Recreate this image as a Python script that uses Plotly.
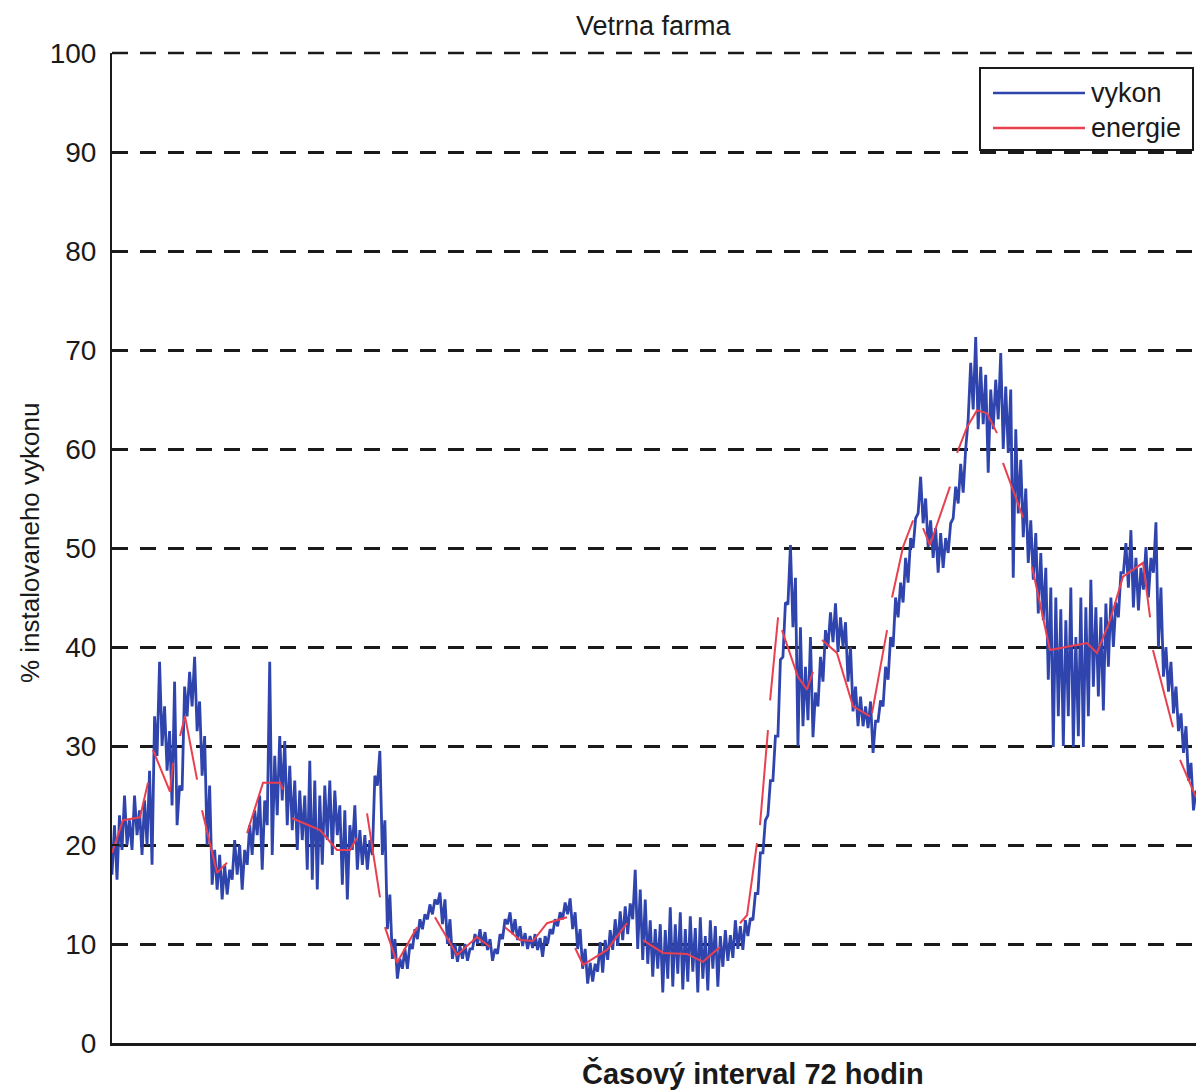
import numpy as np
import plotly.graph_objects as go

# 72 h record of wind-farm output (% of installed capacity), sampled densely
vykon = [
    17, 22, 16.5, 23, 19.5, 25, 20, 22.5, 19.5, 25, 21, 23.5, 19, 24.5, 20, 27.5, 18, 33, 29, 38.5,
    30, 34, 27.5, 31.5, 24, 36.5, 22, 26, 25.5, 36, 33, 37.5, 34, 39, 31.5, 34.5, 27, 31, 20, 26,
    16, 19.5, 15.5, 19, 14.5, 18, 15, 17.5, 16.5, 20.5, 17, 20, 15.5, 19.5, 18, 22, 19, 23.5, 21, 25,
    17.5, 24.5, 22, 38.5, 19, 29, 23, 31, 24.5, 30.5, 22, 28, 21.5, 26.5, 19.5, 25.5, 20.5, 25, 17.5, 28.5,
    16.5, 26.5, 15.5, 25, 18, 26, 20.5, 26.5, 19, 25.5, 21, 24, 16, 23.5, 14.5, 22, 19.5, 24, 17.5, 21.5,
    18, 21, 17.5, 20.5, 19, 27, 26, 29.5, 19, 22.5, 11.5, 15, 8.5, 10.5, 6.5, 8.5, 7.5, 9.5, 7.5, 10,
    9.5, 11.5, 10.5, 12.5, 11.5, 13, 12.5, 14, 13, 14.5, 14, 15.2, 12, 14.5, 10, 12.5, 8.5, 10, 8.2, 9.8,
    8.5, 10, 8.3, 9.5, 9.5, 11, 10, 11.5, 9.8, 11.2, 9.4, 10.5, 8.3, 9.5, 9, 11, 10.5, 12.5, 12, 13.2,
    11, 12.5, 10.4, 11.8, 9.8, 11.1, 9.5, 10.8, 9.6, 11, 9.4, 10.6, 8.7, 10.8, 10, 11.5, 11, 12.5, 11.8, 13.2,
    12.5, 14.2, 13, 14.6, 11.5, 13.2, 9.5, 11.5, 7.5, 9.5, 6, 8.1, 6.2, 8, 7.2, 10.2, 7.1, 10.4, 8.4, 11.4,
    9.4, 12.5, 9.8, 13.3, 10.4, 13.8, 11, 14.1, 12.5, 17.5, 9.5, 15.5, 8.4, 14.5, 8, 12.4, 6.7, 11.5, 7.5, 12,
    5.1, 11.4, 6.5, 13.7, 5.7, 12, 7, 13.2, 5.4, 11.5, 6.2, 12.8, 7.2, 11.6, 5.1, 12.7, 6.5, 10.8, 5.3, 12.4,
    7.5, 11.8, 5.7, 10.8, 7.7, 11.4, 8.3, 10.9, 8.6, 12.4, 9.5, 11.8, 9.4, 12.4, 10.8, 12.6, 12.4, 15.1, 15.1, 19.2,
    19.2, 22.5, 23, 26.5, 26.5, 31, 31, 38.7, 39, 44.5, 44.3, 50.3, 42, 47, 30, 42, 32, 38, 32.6, 41,
    30.9, 35.4, 34, 39, 36.5, 41.7, 40, 43.5, 40.5, 44.4, 39.5, 43, 40, 42.5, 36.5, 40, 33.5, 36, 32, 35,
    32, 34, 31.8, 34.5, 29.3, 32.5, 32.5, 34.6, 34, 38, 36.7, 41, 40, 45, 43, 46.5, 44.5, 49, 46.5, 51,
    50, 53, 53.5, 57.2, 52.5, 55, 50.1, 52.8, 49, 52, 47.5, 51.5, 48, 51, 49.5, 52.5, 53, 56.2, 54.5, 58.5,
    55.6, 60, 63, 68.7, 64, 71.3, 62, 68.3, 62.5, 67.5, 57.6, 66, 62, 67, 63, 69.7, 60, 66.3, 59.6, 66,
    47, 62, 53.5, 58.9, 51.1, 56, 48.5, 52.8, 46.8, 51.5, 43.4, 49.5, 42.7, 48, 36.7, 46, 29.9, 45, 33, 43.8,
    30, 42.7, 33, 46, 29.9, 41, 31, 45, 29.9, 44, 33, 46.8, 36, 44, 35, 43, 33.6, 44.4, 38, 45,
    40, 44.5, 43, 47.5, 47.5, 50.5, 46, 51.8, 44, 49, 43.7, 48, 45.8, 50.1, 45, 49, 47.5, 52.6, 40, 46,
    37, 40, 35.5, 38.5, 33.3, 36, 31.5, 33.3, 29.3, 32, 26.5, 28.3, 23.5, 25.5,
]

# hourly energy curve, drawn in pieces (None breaks the line)
energie_t = [
    0, 0.73, 1.86, 2.39, None,
    2.72, 3.85, 4.05, None,
    4.52, 4.85, 5.65, None,
    5.98, 6.97, 7.64, None,
    8.97, 10.03, 11.16, 11.36, None,
    11.96, 13.82, 14.94, 15.81, 16.27, None,
    16.94, 17.80, None,
    18.13, 18.93, 20.26, None,
    21.45, 22.92, 24.24, 25.11, None,
    26.10, 27.10, 27.96, 28.89, 30.22, None,
    30.76, 31.29, 32.88, 34.21, None,
    35.27, 36.60, 38.19, 39.25, 40.38, None,
    41.71, 42.18, 42.84, None,
    43.04, 43.57, None,
    43.71, 44.24, None,
    44.50, 45.56, 46.16, 46.56, None,
    47.16, 48.15, 49.22, 50.35, None,
    50.48, 51.48, None,
    51.81, 52.54, 53.21, None,
    53.87, 54.33, 55.66, None,
    56.13, 56.79, 57.45, 58.12, 58.78, None,
    59.18, 60.51, None,
    61.11, 62.30, 64.76, 65.42, 66.29, 67.15, 68.48, 68.95, None,
    69.14, 70.47, None,
    70.94, 72.0,
]
energie_v = [
    19.2, 22.5, 22.8, 26.3, None,
    29.6, 25.4, 28.3, None,
    31, 33, 26.6, None,
    23.5, 17.2, 18.2, None,
    21.2, 26.3, 26.3, 25.6, None,
    22.7, 21.5, 19.5, 19.5, 20.7, None,
    23.2, 14.7, None,
    11.7, 8.1, 11.7, None,
    12.7, 8.9, 10.7, 9.7, None,
    11.7, 10.4, 10.3, 12.1, 12.7, None,
    9.6, 7.9, 9.4, 12.1, None,
    10.4, 9.1, 9.0, 8.2, 9.7, None,
    12.1, 12.9, 20.2, None,
    22.0, 31.6, None,
    34.6, 43.0, None,
    41.7, 37.0, 35.7, 37.5, None,
    40.7, 39.4, 34.0, 33.0, None,
    33.3, 41.7, None,
    45.0, 50.1, 52.8, None,
    52.0, 50.3, 56.2, None,
    59.6, 62.2, 63.9, 63.6, 61.6, None,
    58.6, 53.1, None,
    48.1, 39.7, 40.4, 39.4, 42.7, 47.1, 48.5, 43.0, None,
    39.7, 31.9, None,
    28.6, 24.8,
]

y_ticks = [0, 10, 20, 30, 40, 50, 60, 70, 80, 90, 100]
series_names = ["vykon", "energie"]
title_text = "Vetrna farma"
x_title = "Časový interval 72 hodin"
y_title = "% instalovaneho vykonu"

BLUE = "#2f45ad"
RED = "#e8404e"
INK = "#1a1a1a"
SANS = "Liberation Sans, Arial, sans-serif"

W, H = 1196, 1092
ML, MR, MT, MB = 112, 0, 53, 49
PW, PH = W - ML - MR, H - MT - MB


def px_x(p):
    return (p - ML) / PW


def px_y(p):
    return (H - MB - p) / PH


t = np.linspace(0, 72, len(vykon))

fig = go.Figure()
fig.add_trace(go.Scatter(x=t, y=vykon, mode="lines", name=series_names[0],
                         line=dict(color=BLUE, width=2.8), showlegend=False))
fig.add_trace(go.Scatter(x=energie_t, y=energie_v, mode="lines", name=series_names[1],
                         line=dict(color=RED, width=2), connectgaps=False, showlegend=False))

fig.update_layout(
    width=W, height=H,
    margin=dict(l=ML, r=MR, t=MT, b=MB),
    paper_bgcolor="white", plot_bgcolor="white",
    font=dict(family=SANS, color=INK),
)
fig.update_xaxes(range=[0, 72], showticklabels=False, ticks="", showgrid=False,
                 zeroline=False, showline=True, linecolor=INK, linewidth=2.5)
fig.update_yaxes(range=[0, 100], tickvals=y_ticks, ticks="inside", ticklen=7, tickwidth=2,
                 tickcolor=INK, tickfont=dict(family=SANS, size=28, color=INK),
                 ticklabelstandoff=8,
                 showgrid=True, gridcolor=INK, gridwidth=2.5, griddash="16px,12px",
                 zeroline=False, showline=True, linecolor=INK, linewidth=2)

annotations = [
    dict(text=title_text, x=0.5, y=px_y(26), xref="paper", yref="paper",
         xanchor="center", yanchor="middle", showarrow=False,
         font=dict(family=SANS, size=27, color=INK)),
    dict(text="<b>" + x_title + "</b>", x=px_x(753), y=px_y(1073), xref="paper", yref="paper",
         xanchor="center", yanchor="middle", showarrow=False,
         font=dict(family=SANS, size=29, color=INK)),
    dict(text=y_title, x=px_x(30), y=px_y(543), xref="paper", yref="paper",
         xanchor="center", yanchor="middle", textangle=-90, showarrow=False,
         font=dict(family=SANS, size=26, color=INK)),
]

# dashed grid line along the top of the scale (paper-referenced so it is not clipped)
shapes = [
    dict(type="line", xref="paper", yref="paper", x0=0, x1=1, y0=1, y1=1,
         line=dict(color=INK, width=2.5, dash="16px,12px"), layer="below"),
]
# legend box drawn with shapes
shapes.append(dict(type="rect", xref="paper", yref="paper", x0=px_x(980), x1=px_x(1193),
                   y0=px_y(150), y1=px_y(68), fillcolor="white",
                   line=dict(color=INK, width=2), layer="above"))
for name, color, yp in [(series_names[0], BLUE, 93), (series_names[1], RED, 128)]:
    shapes.append(dict(type="line", xref="paper", yref="paper", x0=px_x(993), x1=px_x(1085),
                       y0=px_y(yp), y1=px_y(yp), line=dict(color=color, width=2.5), layer="above"))
    annotations.append(dict(text=name, x=px_x(1089), y=px_y(yp), xref="paper", yref="paper",
                            xanchor="left", yanchor="middle", showarrow=False,
                            font=dict(family=SANS, size=27, color=INK)))

fig.update_layout(annotations=annotations, shapes=shapes)
fig.write_html("out.html")
